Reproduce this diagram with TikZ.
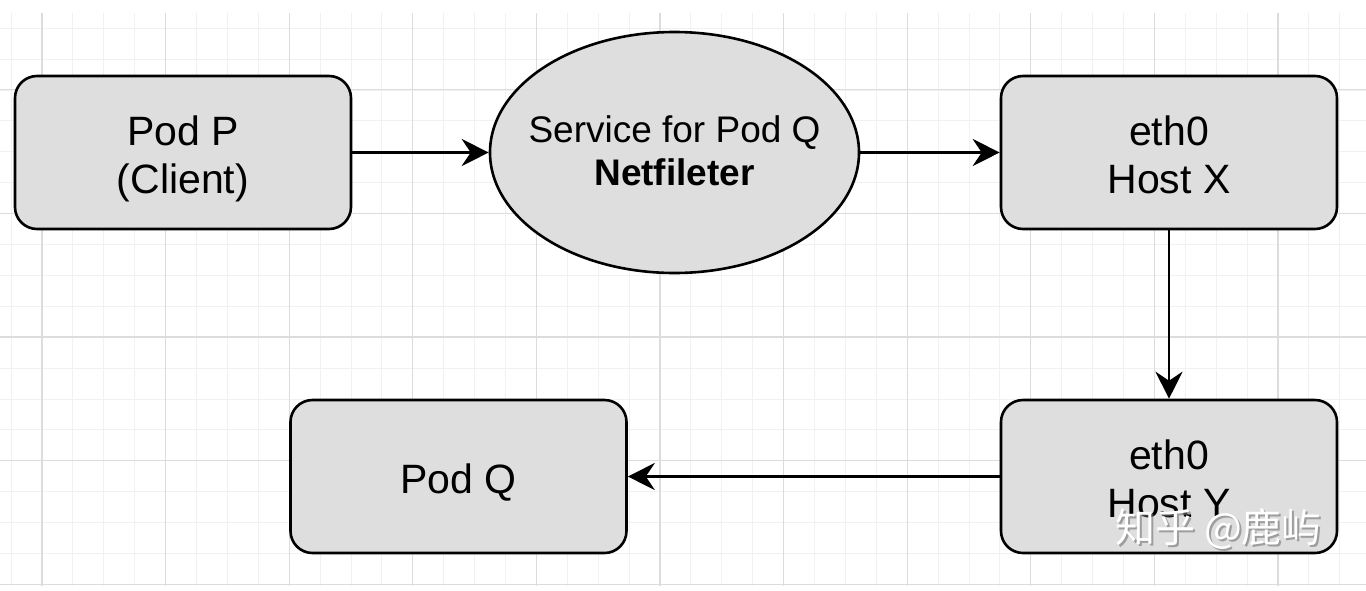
\documentclass[tikz,border=0pt]{standalone}
\usepackage{fontspec}
\setmainfont{Liberation Sans}
\newfontfamily\cjkfont{Noto Sans CJK SC}
\usetikzlibrary{arrows.meta,shapes.geometric}
\definecolor{boxgray}{HTML}{DEDEDE}
\definecolor{minorgrid}{HTML}{F1F1F1}
\definecolor{majorgrid}{HTML}{DCDCDC}
\newcommand{\twolines}[2]{\rule{0pt}{42pt}#1\\#2\rule[-9pt]{0pt}{9pt}}
\tikzset{
  boxnode/.style={draw=black, line width=2.6pt, fill=boxgray, rounded corners=22pt,
    minimum width=336pt, minimum height=153pt, align=center, inner sep=0pt,
    font=\fontsize{41}{48}\selectfont},
  svcnode/.style={ellipse, draw=black, line width=2.6pt, fill=boxgray,
    minimum width=369pt, minimum height=241pt, align=center, inner ysep=0pt,
    inner xsep=-20pt, font=\fontsize{37}{43}\selectfont},
  flow/.style={draw=black, line width=2.8pt, -{Stealth[length=27pt,width=27pt,inset=9pt]}},
  gridminor/.style={draw=minorgrid, line width=1pt},
  gridmajor/.style={draw=majorgrid, line width=1.2pt},
  wmark/.style={font=\cjkfont\fontsize{40}{40}\selectfont, inner sep=0pt}
}
\begin{document}
\begin{tikzpicture}[x=1pt,y=-1pt]
\useasboundingbox (0,0) rectangle (1366,590);
\fill[white] (0,0) rectangle (1366,590);
% grid
\begin{scope}
\clip (0,13) rectangle (1366,586);
\foreach \i [evaluate=\i as \x using 11.1+30.9*\i] in {0,...,44}
  \draw[gridminor] (\x,13) -- (\x,586);
\foreach \j [evaluate=\j as \y using 28.2+30.9*\j] in {0,...,18}
  \draw[gridminor] (0,\y) -- (1366,\y);
\foreach \i [evaluate=\i as \x using 42+123.6*\i] in {0,...,10}
  \draw[gridmajor] (\x,13) -- (\x,586);
\foreach \j [evaluate=\j as \y using 89.8+123.6*\j] in {0,...,4}
  \draw[gridmajor] (0,\y) -- (1366,\y);
\end{scope}
% nodes
\node[boxnode] (podp) at (183,152.5) {\twolines{Pod P}{(Client)}};
\node[svcnode] (svc) at (674.5,152.5) {\rule{0pt}{27pt}Service for Pod Q\\\textbf{Netfileter}\rule[-5pt]{0pt}{5pt}};
\node[boxnode] (hostx) at (1169,152.5) {\twolines{eth0}{Host X}};
\node[boxnode] (hosty) at (1169,476.5) {\twolines{eth0}{Host Y}};
\node[boxnode, text height=38pt, text depth=5pt] (podq) at (458.5,476.5) {Pod Q};
% connectors
\draw[flow] (podp.east) -- (svc.west);
\draw[flow] (svc.east) -- (hostx.west);
\draw[flow] (hostx.south) -- (hosty.north);
\draw[flow] (hosty.west) -- (podq.east);
% watermark
\node[wmark, text=black!55, opacity=0.6] (wmshadow) at (1220.5,531.5) {知乎 @鹿屿};
\node[wmark, text=white] (wm) at (1218.5,529.5) {知乎 @鹿屿};
\end{tikzpicture}
\end{document}
